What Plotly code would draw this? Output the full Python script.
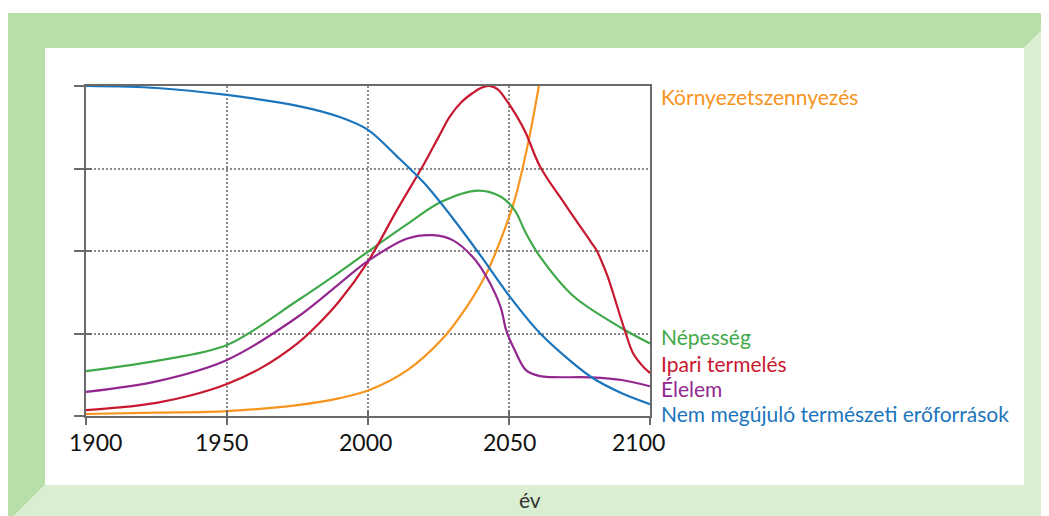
import plotly.graph_objects as go

# ---------------- data ----------------
res_years = [1900, 1925, 1950, 1975, 1990, 2000, 2010, 2020, 2030, 2040, 2050, 2061, 2079, 2090, 2100]
res_vals = [100, 99.4, 97.3, 94, 90.6, 86.7, 78.9, 70.5, 60, 48.5, 36.5, 25.1, 11.9, 6.9, 3.6]

pop_years = [1900, 1925, 1950, 1975, 1990, 2000, 2014, 2026, 2039, 2047, 2052, 2056, 2061, 2073, 2090, 2100]
pop_vals = [13.6, 16.7, 21.5, 35, 43.7, 49.8, 58.2, 64.9, 68.3, 66.5, 62.4, 55.4, 48.3, 36.2, 26.6, 22]

ind_years = [1900, 1912, 1925, 1937, 1950, 1962, 1975, 1982, 1990, 2000, 2010, 2020, 2025, 2029, 2033, 2037, 2040,
             2043, 2046, 2049, 2053, 2056, 2061, 2070, 2079, 2081, 2083, 2085, 2091, 2094, 2097, 2100]
ind_vals = [1.8, 2.6, 4, 6.2, 9.7, 14.5, 22, 27.5, 35, 46.8, 62, 76.6, 84.5, 90.7, 95, 97.8, 99.4,
            100, 99, 95.8, 90.5, 85.7, 75.6, 64, 52.8, 50.3, 46.5, 42.2, 26.1, 19, 15.5, 13]

food_years = [1900, 1925, 1950, 1975, 1990, 2000, 2014, 2023, 2030, 2037, 2042, 2047, 2049, 2052, 2056, 2061, 2079, 2090, 2100]
food_vals = [7.3, 10.5, 17, 30, 40.2, 47, 53.8, 54.8, 53.3, 48.3, 42.2, 33.1, 26, 20, 13.9, 12.1, 11.7, 10.9, 9]

pol_years = [1900, 1925, 1950, 1975, 1990, 2000, 2014, 2026, 2035, 2042, 2047, 2052, 2057, 2061]
pol_vals = [0.6, 1, 1.5, 3.3, 5.4, 7.7, 13.9, 23, 33.1, 43.2, 53.3, 65.5, 83.6, 102]

x_ticks = [1900, 1950, 2000, 2050, 2100]
x_tick_labels = ["1900", "1950", "2000", "2050", "2100"]
y_ticks = [0, 25, 50, 75, 100]

# styling (label nudges as seen in the reference)
x_label_shift = [9, -6, -3, 0, -12]

series = [
    ("Környezetszennyezés", pol_years, pol_vals, "#f7941d", 0.9, 0.967),
    ("Népesség", pop_years, pop_vals, "#3fa94a", 0.9, 0.242),
    ("Ipari termelés", ind_years, ind_vals, "#c8182f", 1.0, 0.158),
    ("Élelem", food_years, food_vals, "#93278f", 0.9, 0.082),
    ("Nem megújuló természeti erőforrások", res_years, res_vals, "#1b75bc", 0.9, 0.009),
]

OFF = 8  # page margin of the browser body
W, H = 1049 - OFF, 516 - OFF
L, R, T, B = 86, 650, 86, 416  # plot area in reference pixels

def px(x, y):
    return (x - L) / (R - L), (B - y) / (B - T)

def path(points):
    pts = [px(x, y) for x, y in points]
    return "M " + " L ".join(f"{a:.5f},{b:.5f}" for a, b in pts) + " Z"

fig = go.Figure()
for name, xs, ys, col, sm, ly in series:
    fig.add_trace(go.Scatter(x=xs, y=ys, mode="lines", name=name,
                             line=dict(color=col, width=2.2, shape="spline", smoothing=sm),
                             hoverinfo="skip", showlegend=False))
    fig.add_annotation(text=name, xref="paper", yref="paper", x=px(659, 0)[0], y=ly,
                       xanchor="left", yanchor="middle", showarrow=False,
                       font=dict(family="Lato", size=21, color=col))

# x tick labels
for xv, lab, sh in zip(x_ticks, x_tick_labels, x_label_shift):
    fig.add_annotation(text=lab, xref="x", yref="paper", x=xv, y=px(0, 442)[1], xshift=sh,
                       xanchor="center", yanchor="middle", showarrow=False,
                       font=dict(family="Lato", size=23, color="#111111"))

# helper trace for the inner half of crossing ticks
fig.add_trace(go.Scatter(x=[], y=[], xaxis="x2", yaxis="y2", showlegend=False, hoverinfo="skip"))

dark = "#b9dfa8"
light = "#daeed2"
fig.add_shape(type="path", xref="paper", yref="paper", layer="below", line_width=0, fillcolor=dark,
              path=path([(8, 13), (1059, 13), (1024, 48), (45, 48), (45, 485), (8, 522)]))
fig.add_shape(type="path", xref="paper", yref="paper", layer="below", line_width=0, fillcolor=light,
              path=path([(1059, 13), (1059, 522), (8, 522), (45, 485), (1024, 485), (1024, 48)]))

fig.add_annotation(text="év", xref="paper", yref="paper", x=px(530, 500)[0], y=px(530, 500)[1],
                   showarrow=False, xanchor="center", yanchor="middle",
                   font=dict(family="Lato", size=21, color="#333333"))

axis_common = dict(showline=True, linecolor="#6a6a6a", linewidth=2, mirror=True,
                   showgrid=True, gridcolor="#8a8a8a", gridwidth=1.5, griddash="1.5px,2.5px",
                   zeroline=False, tickcolor="#6a6a6a", tickwidth=2)

fig.update_layout(
    width=W, height=H,
    margin=dict(l=L - OFF, r=1049 - R, t=T - OFF, b=516 - B),
    paper_bgcolor="white", plot_bgcolor="white",
    font=dict(family="Lato", color="#111111"),
    xaxis=dict(range=[1900, 2100], tickvals=x_ticks, showticklabels=False,
               ticks="outside", ticklen=7, **axis_common),
    yaxis=dict(range=[0, 100], tickvals=y_ticks, showticklabels=False,
               ticks="outside", ticklen=10, **axis_common),
    xaxis2=dict(range=[1900, 2100], overlaying="x", anchor="y2", side="bottom", tickvals=x_ticks,
                showticklabels=False, ticks="inside", ticklen=6, tickcolor="#6a6a6a", tickwidth=2,
                showgrid=False, showline=False, zeroline=False),
    yaxis2=dict(range=[0, 100], overlaying="y", anchor="x2", side="left", tickvals=y_ticks,
                showticklabels=False, ticks="inside", ticklen=6, tickcolor="#6a6a6a", tickwidth=2,
                showgrid=False, showline=False, zeroline=False),
)

fig.write_html("out.html")
